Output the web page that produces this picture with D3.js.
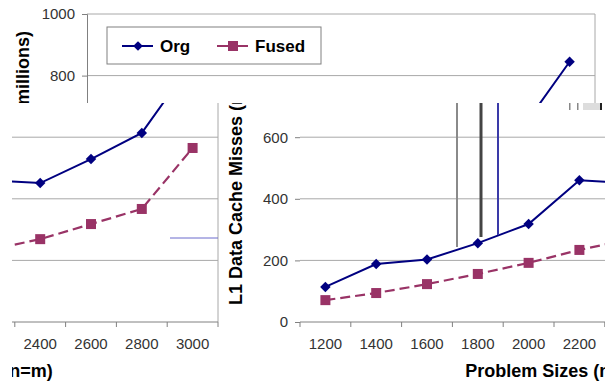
<!DOCTYPE html>
<html>
<head>
<meta charset="utf-8">
<script src="https://cdn.jsdelivr.net/npm/d3@7"></script>
<style>
  body { margin: 0; background: #fff; }
  text { font-family: "Liberation Sans", Arial, sans-serif; }
</style>
</head>
<body>
<script>
// Data
const sizes = ["1200", "1400", "1600", "1800", "2000", "2200", "2400", "2600", "2800", "3000"];
const orgMisses = [114, 188, 203, 256, 318, 460, 451, 529, 614, 845];
const fusedMisses = [71, 94, 123, 156, 192, 234, 269, 318, 367, 565];
const yTicks = [0, 200, 400, 600, 800, 1000];

const W = 605, H = 386;
const plotW = 508;
const orgColor = "#000080", fusedColor = "#993366";

const svg = d3.select("body").append("svg")
    .attr("width", W)
    .attr("height", H);

const x = d3.scaleBand().domain(sizes).range([0, plotW]);
const y = d3.scaleLinear().domain([0, 1000]).range([322, 14]);

const orgData = sizes.map((s, i) => ({ size: s, value: orgMisses[i] }));
const fusedData = sizes.map((s, i) => ({ size: s, value: fusedMisses[i] }));

const line = d3.line()
    .x(d => x(d.size) + x.bandwidth() / 2)
    .y(d => y(d.value));

// the picture is three pieces of the same chart at different offsets
// clip = [x0, y0, x1, y1]
const pieces = [
    { id: "a", left: 87,   clip: [0, 0, W, 103],    yAxisLine: true,  lower: false, legend: true,  yLabels: true },
    { id: "b", left: 300,  clip: [219, 103, W, H],  yAxisLine: false, lower: true,  legend: false, yLabels: true },
    { id: "c", left: -290, clip: [12, 103, 219, H], yAxisLine: true,  lower: true,  legend: false, yLabels: false }
];

const defs = svg.append("defs");

pieces.forEach(p => {
    defs.append("clipPath").attr("id", "clip-" + p.id)
      .append("rect")
        .attr("x", p.clip[0]).attr("y", p.clip[1])
        .attr("width", p.clip[2] - p.clip[0]).attr("height", p.clip[3] - p.clip[1]);

    const g = svg.append("g")
        .attr("clip-path", `url(#clip-${p.id})`)
      .append("g")
        .attr("transform", `translate(${p.left},0)`);

    drawChart(g, p);
});

function drawChart(g, p) {
    // gridlines
    g.selectAll(".grid")
        .data(yTicks.filter(d => d > 0))
        .enter().append("line")
        .attr("x1", 0).attr("x2", plotW)
        .attr("y1", d => y(d)).attr("y2", d => y(d))
        .attr("stroke", "#a8a8a8").attr("stroke-width", 1);

    // right frame
    g.append("line")
        .attr("x1", plotW).attr("x2", plotW)
        .attr("y1", y(1000)).attr("y2", y(0))
        .attr("stroke", "#a8a8a8");

    // y axis
    const yAxis = g.append("g")
        .call(d3.axisLeft(y).tickValues(yTicks).tickSize(5).tickPadding(7).tickFormat(d3.format("d")));
    yAxis.select(".domain").attr("stroke", p.yAxisLine ? "#808080" : "none");
    yAxis.selectAll(".tick line").attr("stroke", "#808080");
    // keep only the labels that fall inside this piece
    yAxis.selectAll(".tick")
        .filter(d => !p.yLabels || y(d) < p.clip[1] - 6 || y(d) > p.clip[3] + 6)
        .select("text").remove();
    yAxis.selectAll("text")
        .style("font-size", "15px")
        .attr("fill", "#333")
        .style("font-family", "'Liberation Sans', Arial, sans-serif");

    // y title
    g.append("text")
        .attr("transform", `translate(-58,168) rotate(-90)`)
        .attr("text-anchor", "middle")
        .style("font-size", "18px")
        .style("font-weight", "bold")
        .text("L1 Data Cache Misses (millions)");

    if (p.lower) {
        // x axis: line, tick marks on category borders, labels centred
        g.append("line")
            .attr("x1", 0).attr("x2", plotW)
            .attr("y1", y(0)).attr("y2", y(0))
            .attr("stroke", "#808080");
        g.selectAll(".xtick")
            .data(sizes.map(s => x(s)).concat([plotW]))
            .enter().append("line")
            .attr("x1", d => d).attr("x2", d => d)
            .attr("y1", y(0)).attr("y2", y(0) + 5)
            .attr("stroke", "#808080");
        g.selectAll(".xlabel")
            .data(sizes.filter(s => {
                const cx = p.left + x(s) + x.bandwidth() / 2;
                return cx > p.clip[0] + 10 && cx < p.clip[2] - 10;
            }))
            .enter().append("text")
            .attr("x", d => x(d) + x.bandwidth() / 2)
            .attr("y", 349)
            .attr("text-anchor", "middle")
            .style("font-size", "15px")
            .attr("fill", "#333")
            .text(d => d);

        g.append("text")
            .attr("x", plotW / 2)
            .attr("y", 377)
            .attr("text-anchor", "middle")
            .style("font-size", "18px")
            .style("font-weight", "bold")
            .text("Problem Sizes (n=m)");
    }

    // series
    g.append("path")
        .datum(orgData)
        .attr("d", line)
        .attr("fill", "none")
        .attr("stroke", orgColor)
        .attr("stroke-width", 2);
    g.append("path")
        .datum(fusedData)
        .attr("d", line)
        .attr("fill", "none")
        .attr("stroke", fusedColor)
        .attr("stroke-width", 2.2)
        .attr("stroke-dasharray", "10,5");

    g.selectAll(".org-pt")
        .data(orgData)
        .enter().append("path")
        .attr("d", d3.symbol(d3.symbolDiamond2, 70))
        .attr("transform", d => `translate(${x(d.size) + x.bandwidth() / 2},${y(d.value)})`)
        .attr("fill", orgColor);
    g.selectAll(".fused-pt")
        .data(fusedData)
        .enter().append("rect")
        .attr("x", d => x(d.size) + x.bandwidth() / 2 - 5)
        .attr("y", d => y(d.value) - 5)
        .attr("width", 10).attr("height", 10)
        .attr("fill", fusedColor);

    if (p.legend) {
        const lg = g.append("g").attr("transform", "translate(20,27)");
        lg.append("rect")
            .attr("width", 214).attr("height", 37)
            .attr("fill", "#fff")
            .attr("stroke", "#808080");
        lg.append("line").attr("x1", 15).attr("x2", 46).attr("y1", 19).attr("y2", 19)
            .attr("stroke", orgColor).attr("stroke-width", 2);
        lg.append("path").attr("d", d3.symbol(d3.symbolDiamond2, 60))
            .attr("transform", "translate(31,19)").attr("fill", orgColor);
        lg.append("text").attr("x", 53).attr("y", 25)
            .style("font-size", "17px").style("font-weight", "bold").text("Org");
        lg.append("line").attr("x1", 110).attr("x2", 141).attr("y1", 19).attr("y2", 19)
            .attr("stroke", fusedColor).attr("stroke-width", 2);
        lg.append("rect").attr("x", 121).attr("y", 14).attr("width", 10).attr("height", 10)
            .attr("fill", fusedColor);
        lg.append("text").attr("x", 148).attr("y", 25)
            .style("font-size", "17px").style("font-weight", "bold").text("Fused");
    }
}

// stray streaks left where the pieces join
const streaks = [
    { x: 457, y2: 247, color: "#8a8a8a", w: 2 },
    { x: 481, y2: 237, color: "#444", w: 3 },
    { x: 498, y2: 235, color: "#3a3aa8", w: 2 }
];
svg.selectAll(".streak")
    .data(streaks)
    .enter().append("line")
    .attr("x1", d => d.x).attr("x2", d => d.x)
    .attr("y1", 103).attr("y2", d => d.y2)
    .attr("stroke", d => d.color)
    .attr("stroke-width", d => d.w);
svg.append("line")
    .attr("x1", 170).attr("x2", 218).attr("y1", 238).attr("y2", 238)
    .attr("stroke", "#6a6acc");
svg.append("rect").attr("x", 583).attr("y", 103).attr("width", 17).attr("height", 7).attr("fill", "#ddd");
svg.append("rect").attr("x", 569).attr("y", 103).attr("width", 1.5).attr("height", 7).attr("fill", "#888");
svg.append("rect").attr("x", 577).attr("y", 103).attr("width", 1.5).attr("height", 7).attr("fill", "#888");
svg.append("rect").attr("x", 600).attr("y", 103).attr("width", 2).attr("height", 7).attr("fill", "#222");
</script>
</body>
</html>
